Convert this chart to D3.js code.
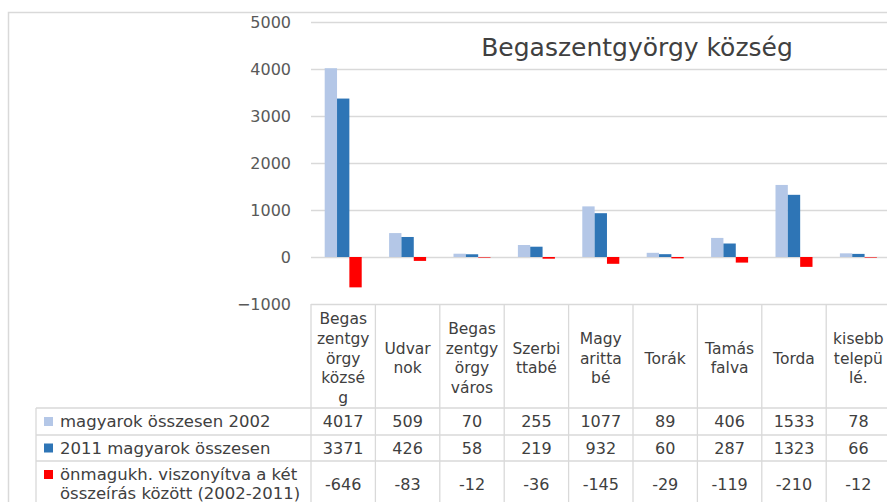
<!DOCTYPE html>
<html>
<head>
<meta charset="utf-8">
<script src="https://cdn.jsdelivr.net/npm/d3@7"></script>
<style>
  html, body { margin: 0; padding: 0; background: #fff; }
  svg { display: block; font-family: "DejaVu Sans", Verdana, sans-serif; }
</style>
</head>
<body>
<svg id="chart" width="887" height="502"></svg>
<script>
// ---- data ----
const categoryLabels = [
  ["Begas", "zentgy", "örgy", "közsé", "g"],
  ["Udvar", "nok"],
  ["Begas", "zentgy", "örgy", "város"],
  ["Szerbi", "ttabé"],
  ["Magy", "aritta", "bé"],
  ["Torák"],
  ["Tamás", "falva"],
  ["Torda"],
  ["kisebb", "telepü", "lé."]
];
const values2002 = [4017, 509, 70, 255, 1077, 89, 406, 1533, 78];
const values2011 = [3371, 426, 58, 219, 932, 60, 287, 1323, 66];
const valuesDiff = [-646, -83, -12, -36, -145, -29, -119, -210, -12];
const seriesNames = [
  ["magyarok összesen 2002"],
  ["2011 magyarok összesen"],
  ["önmagukh. viszonyítva a két", "összeírás között (2002-2011)"]
];
const seriesColors = ["#b4c7e7", "#2e75b6", "#ff0000"];
const yTicks = [-1000, 0, 1000, 2000, 3000, 4000, 5000];
const titleText = "Begaszentgyörgy község";

// ---- layout ----
const W = 887, H = 502;
const plotLeft = 311, colW = 64.4;
const plotRight = plotLeft + colW * categoryLabels.length;
const plotTop = 22, plotBottom = 304;
const legendLeft = 36;
const headerBottom = 408;
const rowBounds = [408, 435, 461, 507];
const grid = "#d9d9d9";
const textCol = "#404040";

const series = [values2002, values2011, valuesDiff];
const svg = d3.select("#chart");

// chart outer border
svg.append("rect").attr("x", 8.5).attr("y", 12.5)
  .attr("width", W + 20).attr("height", H + 20)
  .attr("fill", "none").attr("stroke", grid).attr("stroke-width", 1.5);

const x = d3.scaleBand().domain(d3.range(categoryLabels.length))
  .range([plotLeft, plotRight]).paddingInner(0).paddingOuter(0);
const xs = d3.scaleBand().domain(d3.range(series.length))
  .range([0, x.bandwidth()]).paddingInner(0).paddingOuter(1.11);
const y = d3.scaleLinear().domain([-1000, 5000]).range([plotBottom, plotTop]);

// gridlines
svg.append("g").selectAll("line").data(yTicks).join("line")
  .attr("x1", plotLeft).attr("x2", plotRight)
  .attr("y1", d => Math.round(y(d)) + 0.5).attr("y2", d => Math.round(y(d)) + 0.5)
  .attr("stroke", grid).attr("stroke-width", 1.3);

// y axis labels
const yAxis = d3.axisLeft(y).tickValues(yTicks).tickSize(0).tickPadding(0).tickFormat(d3.format("d"));
const yg = svg.append("g").attr("transform", `translate(${plotLeft - 20},0)`).call(yAxis);
yg.select(".domain").remove();
yg.selectAll("text").attr("fill", "#595959").style("font-size", "16px")
  .style("font-family", "DejaVu Sans, sans-serif");

// bars
const barG = svg.append("g");
series.forEach((vals, si) => {
  barG.append("g").selectAll("rect").data(vals).join("rect")
    .attr("x", (d, i) => x(i) + xs(si))
    .attr("width", xs.bandwidth())
    .attr("y", d => y(Math.max(0, d)))
    .attr("height", d => Math.abs(y(d) - y(0)))
    .attr("fill", seriesColors[si]);
});

// title
svg.append("text").attr("x", 637).attr("y", 56)
  .attr("text-anchor", "middle").attr("fill", textCol)
  .style("font-size", "25px").text(titleText);

// ---- data table ----
const tbl = svg.append("g").attr("stroke", grid).attr("stroke-width", 1.3);
d3.range(categoryLabels.length + 1).forEach(i => {
  const xx = plotLeft + i * colW;
  tbl.append("line").attr("x1", xx).attr("x2", xx)
    .attr("y1", plotBottom).attr("y2", H + 10);
});
tbl.append("line").attr("x1", legendLeft).attr("x2", legendLeft)
  .attr("y1", headerBottom).attr("y2", H + 10);
rowBounds.forEach(yy => {
  tbl.append("line").attr("x1", legendLeft).attr("x2", plotRight)
    .attr("y1", yy).attr("y2", yy);
});

// header labels
const lineH = 19.8;
const hdr = svg.append("g").attr("fill", textCol).style("font-size", "15.5px")
  .attr("text-anchor", "middle");
categoryLabels.forEach((lines, i) => {
  const cx = x(i) + x.bandwidth() / 2;
  const cy = (plotBottom + headerBottom) / 2 + 2;
  const t = hdr.append("text").attr("x", cx);
  lines.forEach((ln, k) => {
    t.append("tspan").attr("x", cx)
      .attr("y", cy + (k - (lines.length - 1) / 2) * lineH)
      .attr("dy", "0.36em").text(ln);
  });
});

// rows
const legLineH = 19;
series.forEach((vals, si) => {
  const r0 = rowBounds[si], r1 = rowBounds[si + 1];
  const cy = (r0 + r1) / 2;
  const nameLines = seriesNames[si];
  const g = svg.append("g").attr("fill", textCol).style("font-size", "16px");
  const firstLineY = cy - (nameLines.length - 1) / 2 * legLineH;
  g.append("rect").attr("x", 44).attr("y", firstLineY - 4.5)
    .attr("width", 9).attr("height", 9).attr("fill", seriesColors[si]);
  nameLines.forEach((ln, k) => {
    g.append("text").attr("x", 60).attr("y", firstLineY + k * legLineH)
      .attr("dy", "0.36em").style("font-size", "16.5px").text(ln);
  });
  g.selectAll("text.v").data(vals).join("text").attr("class", "v")
    .attr("x", (d, i) => x(i) + x.bandwidth() / 2)
    .attr("y", cy).attr("dy", "0.36em")
    .attr("text-anchor", "middle").text(d => d);
});
</script>
</body>
</html>
